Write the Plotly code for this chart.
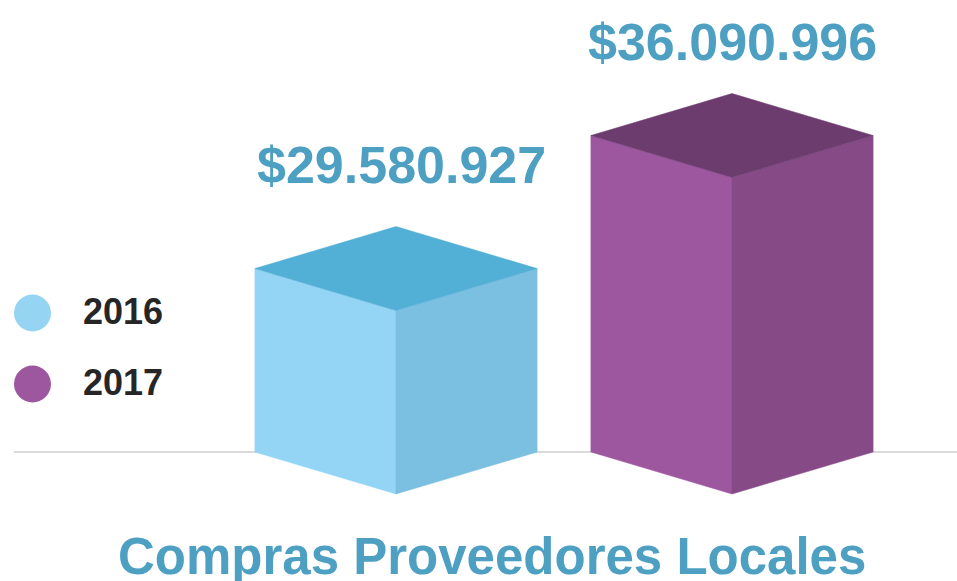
import plotly.graph_objects as go

# data
years = ["2016", "2017"]
values = [29580927, 36090996]
value_labels = ["$29.580.927", "$36.090.996"]
title_text = "Compras Proveedores Locales"

# colours per year: front, side, top
C = {
    "2016": dict(front="#94D4F4", side="#7BBFE1", top="#52AFD6", dot="#96D4F3"),
    "2017": dict(front="#9C579F", side="#864B86", top="#6D3C6F", dot="#9C579F"),
    "text": "#4EA0C3",
    "legend": "#262626",
    "axis": "#B5B5B5",
}

W, H = 957, 581
FONT = "Liberation Sans, Arial, sans-serif"

# scale: where the bars sit and how deep the fake 3D box looks
BASE = 20.6e6            # value at the floor line
PX_PER_UNIT = 20.43e-6   # pixels per currency unit
DEPTH = 42 / PX_PER_UNIT # isometric offset in value units
HALF = 0.42              # half width of a box in category units
LABEL_LIFT = {"2016": 31, "2017": 21}
LABEL_NUDGE = {"2016": 5, "2017": 0}


def px_x(p):
    return p / W


def px_y(p):
    return 1 - p / H


fig = go.Figure()

for i, (yr, v) in enumerate(zip(years, values)):
    col = C[yr]
    faces = [
        ([i - HALF, i, i, i - HALF, i - HALF],
         [BASE, BASE - DEPTH, v - DEPTH, v, BASE], col["front"]),
        ([i, i + HALF, i + HALF, i, i],
         [BASE - DEPTH, BASE, v, v - DEPTH, BASE - DEPTH], col["side"]),
        ([i - HALF, i, i + HALF, i, i - HALF],
         [v, v - DEPTH, v, v + DEPTH, v], col["top"]),
    ]
    for xs, ys, c in faces:
        fig.add_trace(go.Scatter(
            x=xs, y=ys, mode="lines", fill="toself", fillcolor=c,
            line=dict(color=c, width=0.5), hoverinfo="skip", showlegend=False,
        ))
    fig.add_annotation(
        x=i, y=v + DEPTH, text=value_labels[i], showarrow=False,
        yanchor="bottom", yshift=LABEL_LIFT[yr], xshift=LABEL_NUDGE[yr],
        font=dict(family=FONT, size=52, color=C["text"], weight=700),
    )

# floor line
fig.add_shape(type="line", xref="paper", yref="y", layer="below",
              x0=px_x(14), x1=1, y0=BASE, y1=BASE,
              line=dict(color=C["axis"], width=1))

# hand-made legend
for k, yr in enumerate(years):
    cy = 313 + 71 * k
    fig.add_shape(type="circle", xref="paper", yref="paper",
                  x0=px_x(14), x1=px_x(51), y0=px_y(cy - 18.5), y1=px_y(cy + 18.5),
                  fillcolor=C[yr]["dot"], line=dict(width=0))
    fig.add_annotation(
        xref="paper", yref="paper", x=px_x(81), y=px_y(cy - 2), text=yr,
        showarrow=False, xanchor="left", yanchor="middle",
        font=dict(family=FONT, size=36, color=C["legend"], weight=700),
    )

fig.add_annotation(
    xref="paper", yref="paper", x=px_x(492), y=px_y(556), text=title_text,
    showarrow=False, xanchor="center", yanchor="middle",
    font=dict(family=FONT, size=51, color=C["text"], weight=700),
)

x_lo = -396 / 336
x_hi = (W - 396) / 336
y_lo = BASE - (H - 452) / PX_PER_UNIT
y_hi = BASE + 452 / PX_PER_UNIT

fig.update_layout(
    width=W, height=H,
    margin=dict(t=0, b=0, l=0, r=0),
    paper_bgcolor="white", plot_bgcolor="white",
    xaxis=dict(range=[x_lo, x_hi], visible=False, fixedrange=True),
    yaxis=dict(range=[y_lo, y_hi], visible=False, fixedrange=True),
    showlegend=False,
)

fig.write_html("out.html", config={"displayModeBar": False})

# drop the default page margin so the figure sits flush in the window
with open("out.html", encoding="utf-8") as f:
    page = f.read()
page = page.replace("<head>", "<head><style>body{margin:0;overflow:hidden}</style>", 1)
with open("out.html", "w", encoding="utf-8") as f:
    f.write(page)
